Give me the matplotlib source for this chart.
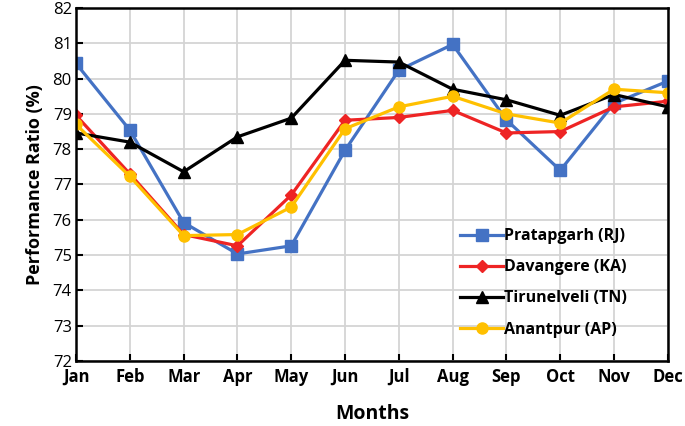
import matplotlib.pyplot as plt

months = ["Jan", "Feb", "Mar", "Apr", "May", "Jun", "Jul", "Aug", "Sep", "Oct", "Nov", "Dec"]

pratapgarh = [80.43, 78.54, 75.92, 75.03, 75.26, 77.97, 80.24, 80.97, 78.83, 77.40, 79.30, 79.93]
davangere = [78.96, 77.30, 75.58, 75.26, 76.70, 78.82, 78.90, 79.10, 78.46, 78.50, 79.20, 79.36]
tirunelveli = [78.46, 78.20, 77.36, 78.35, 78.88, 80.52, 80.47, 79.70, 79.40, 78.96, 79.55, 79.20]
anantpur = [78.70, 77.23, 75.55, 75.58, 76.36, 78.58, 79.20, 79.50, 79.00, 78.74, 79.70, 79.60]

plt.rcParams['font.family'] = ['Open Sans', 'DejaVu Sans']

fig = plt.figure(figsize=(6.85, 4.26), dpi=100)
ax = fig.add_axes([0.111, 0.153, 0.864, 0.828])

x = range(len(months))
ax.plot(x, pratapgarh, color="#4472C4", marker="s", markersize=9, linewidth=2.3, label="Pratapgarh (RJ)")
ax.plot(x, davangere, color="#EE2424", marker="D", markersize=6.5, linewidth=2.3, label="Davangere (KA)")
ax.plot(x, tirunelveli, color="black", marker="^", markersize=9, linewidth=2.3, label="Tirunelveli (TN)")
ax.plot(x, anantpur, color="#FFC000", marker="o", markersize=8, linewidth=2.3, label="Anantpur (AP)")

ax.set_xlim(0, 11)
ax.set_ylim(72, 82)
ax.set_xticks(list(x))
ax.set_xticklabels(months, fontweight="bold", fontsize=12)
ax.set_yticks(range(72, 83))
ax.tick_params(axis="y", labelsize=12, pad=3)
ax.tick_params(direction="in", length=5, width=1.5)
ax.tick_params(axis="x", pad=5)
ax.grid(True, color="#D4D4D4", linewidth=1.3)
ax.set_axisbelow(True)
for s in ax.spines.values():
    s.set_linewidth(1.8)

ax.set_xlabel("Months", fontweight="bold", fontsize=14, labelpad=13)
ax.set_ylabel("Performance Ratio (%)", fontweight="bold", fontsize=13, labelpad=6)

leg = ax.legend(loc="lower right", bbox_to_anchor=(0.955, 0.025), frameon=False,
                prop={"weight": "bold", "size": 11.5}, handlelength=2.7,
                handletextpad=0.05, labelspacing=0.95)

fig.savefig("out.png", dpi=100)
